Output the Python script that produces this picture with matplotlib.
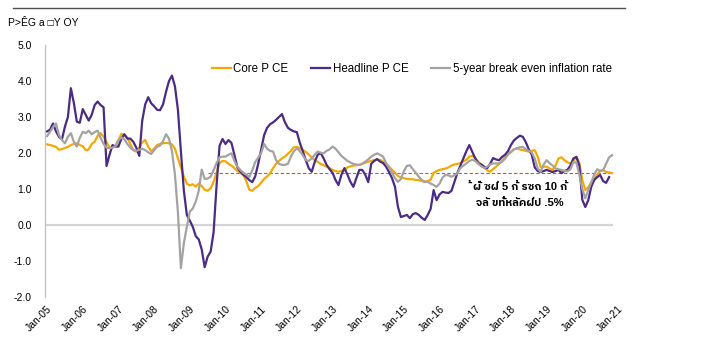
import matplotlib
matplotlib.use('Agg')
import matplotlib.pyplot as plt
from matplotlib.lines import Line2D
from matplotlib import font_manager as fm
from matplotlib.ft2font import FT2Font
import numpy as np

# ---------------- data (monthly, from Jan-05) ----------------
tick_labels = ['Jan-05', 'Jan-06', 'Jan-07', 'Jan-08', 'Jan-09', 'Jan-10', 'Jan-11',
               'Jan-12', 'Jan-13', 'Jan-14', 'Jan-15', 'Jan-16', 'Jan-17', 'Jan-18',
               'Jan-19', 'Jan-20', 'Jan-21']

core_pce = [
    2.24, 2.22, 2.20, 2.17, 2.09, 2.11, 2.14, 2.17, 2.22, 2.25, 2.27, 2.22,
    2.19, 2.08, 2.10, 2.25, 2.31, 2.48, 2.55, 2.45, 2.30, 2.15, 2.15, 2.20,
    2.36, 2.53, 2.50, 2.42, 2.25, 2.08, 2.04, 2.15, 2.30, 2.36, 2.18, 2.05,
    2.12, 2.22, 2.25, 2.27, 2.28, 2.27, 2.24, 2.12, 1.85, 1.60, 1.35, 1.15,
    1.10, 1.13, 1.07, 1.15, 1.08, 0.98, 0.95, 1.02, 1.20, 1.45, 1.72, 1.78,
    1.77, 1.70, 1.65, 1.58, 1.50, 1.45, 1.38, 1.22, 0.98, 0.95, 1.03, 1.08,
    1.18, 1.28, 1.35, 1.43, 1.58, 1.70, 1.78, 1.85, 1.90, 1.98, 2.06, 2.16,
    2.17, 2.13, 2.08, 2.03, 1.96, 1.88, 1.80, 1.75, 1.70, 1.66, 1.62, 1.58,
    1.53, 1.50, 1.48, 1.50, 1.53, 1.60, 1.63, 1.65, 1.66, 1.67, 1.70, 1.73,
    1.76, 1.78, 1.80, 1.81, 1.81, 1.76, 1.71, 1.62, 1.53, 1.45, 1.36, 1.32,
    1.30, 1.28, 1.27, 1.27, 1.25, 1.25, 1.22, 1.20, 1.22, 1.26, 1.45, 1.50,
    1.53, 1.55, 1.57, 1.60, 1.65, 1.68, 1.70, 1.72, 1.77, 1.81, 1.90, 1.92,
    1.86, 1.75, 1.68, 1.60, 1.52, 1.48, 1.55, 1.62, 1.70, 1.78, 1.88, 1.98,
    2.02, 2.10, 2.13, 2.10, 2.08, 2.06, 2.04, 2.06, 2.08, 1.90, 1.60, 1.62,
    1.62, 1.57, 1.53, 1.65, 1.85, 1.88, 1.80, 1.74, 1.71, 1.78, 1.90, 1.72,
    1.25, 0.97, 1.05, 1.18, 1.28, 1.40, 1.50, 1.53, 1.47, 1.46, 1.44,
]

headline_pce = [
    2.60, 2.65, 2.82, 2.60, 2.45, 2.38, 2.73, 3.00, 3.80, 3.39, 2.87, 2.84,
    3.22, 3.06, 2.90, 3.06, 3.33, 3.43, 3.33, 3.27, 1.64, 1.95, 2.22, 2.18,
    2.18, 2.40, 2.52, 2.40, 2.40, 2.31, 2.15, 1.92, 2.90, 3.35, 3.55, 3.38,
    3.30, 3.20, 3.19, 3.35, 3.70, 4.00, 4.15, 3.85, 3.20, 2.05, 0.95, 0.28,
    0.12, -0.05, -0.31, -0.40, -0.68, -1.17, -0.88, -0.74, -0.20, 1.10, 2.20, 2.39,
    2.25, 2.36, 2.28, 1.95, 1.60, 1.48, 1.40, 1.33, 1.25, 1.19, 1.35, 1.70,
    2.10, 2.50, 2.70, 2.80, 2.85, 2.92, 3.00, 3.08, 2.85, 2.70, 2.64, 2.60,
    2.58, 2.28, 2.05, 1.80, 1.58, 1.48, 1.75, 1.95, 2.00, 1.85, 1.67, 1.55,
    1.45, 1.25, 1.11, 1.40, 1.58, 1.40, 1.20, 1.06, 1.30, 1.53, 1.53, 1.40,
    1.19, 1.70, 1.78, 1.83, 1.76, 1.72, 1.62, 1.47, 1.30, 1.06, 0.50, 0.22,
    0.25, 0.28, 0.19, 0.30, 0.33, 0.28, 0.20, 0.14, 0.28, 0.45, 0.97, 0.69,
    0.85, 0.92, 0.90, 0.89, 0.95, 1.20, 1.45, 1.65, 1.85, 2.05, 2.22, 2.03,
    1.85, 1.72, 1.68, 1.62, 1.58, 1.70, 1.86, 1.82, 1.80, 1.89, 1.95, 2.05,
    2.22, 2.35, 2.42, 2.48, 2.45, 2.30, 2.10, 1.95, 1.60, 1.50, 1.47, 1.50,
    1.53, 1.50, 1.47, 1.50, 1.53, 1.44, 1.50, 1.53, 1.65, 1.85, 1.89, 1.65,
    0.70, 0.50, 0.69, 1.06, 1.25, 1.33, 1.39, 1.22, 1.17, 1.33,
]

breakeven_5y = [
    2.47, 2.59, 2.72, 2.82, 2.50, 2.36, 2.27, 2.45, 2.55, 2.31, 2.18, 2.42,
    2.59, 2.55, 2.62, 2.52, 2.58, 2.62, 2.42, 2.25, 2.15, 2.13, 2.15, 2.19,
    2.35, 2.43, 2.38, 2.25, 2.15, 2.08, 2.06, 2.09, 2.12, 2.08, 2.02, 1.97,
    2.08, 2.17, 2.21, 2.33, 2.52, 2.40, 2.05, 1.40, 0.35, -1.20, -0.50, -0.05,
    0.37, 0.46, 0.65, 0.95, 1.54, 1.28, 1.29, 1.34, 1.52, 1.72, 1.88, 1.90,
    1.90, 1.95, 1.99, 1.78, 1.62, 1.53, 1.45, 1.40, 1.33, 1.52, 1.75, 1.87,
    2.00, 2.25, 2.12, 2.06, 2.04, 1.80, 1.70, 1.67, 1.67, 1.70, 1.90, 2.05,
    2.13, 2.05, 1.94, 1.80, 1.78, 1.85, 1.95, 2.04, 2.01, 1.99, 2.06, 2.10,
    2.18, 2.12, 2.02, 1.92, 1.85, 1.78, 1.74, 1.70, 1.68, 1.67, 1.70, 1.76,
    1.82, 1.90, 1.95, 1.99, 1.95, 1.90, 1.72, 1.60, 1.44, 1.30, 1.20, 1.28,
    1.50, 1.64, 1.66, 1.55, 1.45, 1.34, 1.25, 1.20, 1.20, 1.15, 1.11, 1.06,
    1.15, 1.32, 1.39, 1.38, 1.34, 1.38, 1.44, 1.58, 1.65, 1.71, 1.78, 1.81,
    1.78, 1.70, 1.63, 1.58, 1.62, 1.68, 1.71, 1.71, 1.71, 1.76, 1.84, 1.95,
    2.04, 2.10, 2.13, 2.16, 2.17, 2.10, 2.06, 2.02, 1.85, 1.57, 1.48, 1.68,
    1.80, 1.72, 1.65, 1.57, 1.55, 1.53, 1.50, 1.49, 1.55, 1.75, 1.73, 1.40,
    1.00, 0.74, 0.97, 1.18, 1.40, 1.55, 1.50, 1.52, 1.70, 1.88, 1.94,
]

ref_level = 1.45      # dashed reference level
ref_start = 54        # month index where the dashed line starts

title_text = 'P>ÊG a \u25a1Y OY'
note_line1 = '\u0e49 \u0e1c\u0e31\u0e48 \u0e0b\u0e1d\u0e48 5 \u0e01\u0e49 \u0e23\u0e0b\u0e16 10 \u0e01\u0e49'
note_line2 = '\u0e08\u0e25\u0e31 \u0e02\u0e17\u0e31\u0e49\u0e2b\u0e25\u0e31\u0e04\u0e1d\u0e48\u0e1b .5%'


# ---------------- find an installed family that covers Thai ----------------
def families_covering(chars):
    codes = set(ord(c) for c in chars if not c.isspace() and ord(c) > 127)
    found = []
    seen = set()
    for f in fm.fontManager.ttflist:
        if f.name in seen:
            continue
        try:
            cmap = FT2Font(f.fname).get_charmap()
        except Exception:
            continue
        if codes and codes.issubset(set(cmap.keys())):
            found.append(f.name)
            seen.add(f.name)
    return found

thai_fams = families_covering(note_line1 + note_line2)
preferred = [n for n in thai_fams if 'Thai' in n and 'Loop' not in n]
thai_list = (preferred + thai_fams)[:1]
note_families = ['Liberation Sans'] + thai_list + ['DejaVu Sans']

plt.rcParams['font.family'] = ['Liberation Sans', 'DejaVu Sans']

# ---------------- figure ----------------
W, H = 708, 361
fig = plt.figure(figsize=(W / 100, H / 100), dpi=100)
ax = fig.add_axes([45 / W, 1 - 297 / H, (618 - 45) / W, 252 / H])

n_last = max(len(core_pce), len(breakeven_5y))
x_core = np.arange(len(core_pce))
x_head = np.arange(len(headline_pce))
x_be = np.arange(len(breakeven_5y))

ax.set_xlim(-0.7, 192)
ax.set_ylim(-2, 5)

# zero line and reference line
ax.hlines(0, -0.7, n_last - 0.7, colors='#d4d4d4', linewidth=1.6, zorder=1)
ax.hlines(ref_level, ref_start, n_last - 1, colors='#8064b8', linewidth=0.8,
          linestyles=(0, (3, 2)), zorder=1.5)

ax.plot(x_core, core_pce, color='#F5A900', lw=1.6, label='Core P CE', zorder=2)
ax.plot(x_head, headline_pce, color='#4A2B86', lw=1.6, label='Headline P CE', zorder=3)
ax.plot(x_be, breakeven_5y, color='#A3A3A3', lw=1.6,
        label='5-year break even inflation rate', zorder=4)

# axes styling
for s in ['top', 'right', 'bottom']:
    ax.spines[s].set_visible(False)
ax.spines['left'].set_color('#c4c4c4')
ax.spines['left'].set_linewidth(1.0)

yt = np.arange(-2, 5.01, 1.0)
ax.set_yticks(yt)
ax.set_yticklabels(['%.1f' % v for v in yt], fontsize=7.5)
ax.tick_params(axis='y', length=0, pad=9.5)

ax.set_xticks(np.arange(0, 12 * len(tick_labels), 12))
ax.set_xticklabels(tick_labels, rotation=45, ha='right', va='top',
                   rotation_mode='anchor', fontsize=7.5)
ax.tick_params(axis='x', length=0, pad=5)

leg = ax.legend(ncol=3, loc='center', bbox_to_anchor=(0.64, 0.905),
                frameon=False, fontsize=8.3, handlelength=1.65, handletextpad=0.2,
                columnspacing=2.0)

# header line and title
fig.add_artist(Line2D([13 / W, 625 / W], [1 - 8 / H, 1 - 8 / H],
                      color='#505050', lw=1.0))
fig.text(8 / W, 1 - 23 / H, title_text, fontsize=7.5, va='center', ha='left')

# annotation
ax.text((470 - 45) / 573, (297 - 187) / 252, note_line1, transform=ax.transAxes,
        fontsize=8, va='center', ha='left', fontweight='bold',
        family=note_families)
ax.text((476 - 45) / 573, (297 - 203) / 252, note_line2, transform=ax.transAxes,
        fontsize=8, va='center', ha='left', fontweight='bold',
        family=note_families)

fig.savefig('out.png', dpi=100)
